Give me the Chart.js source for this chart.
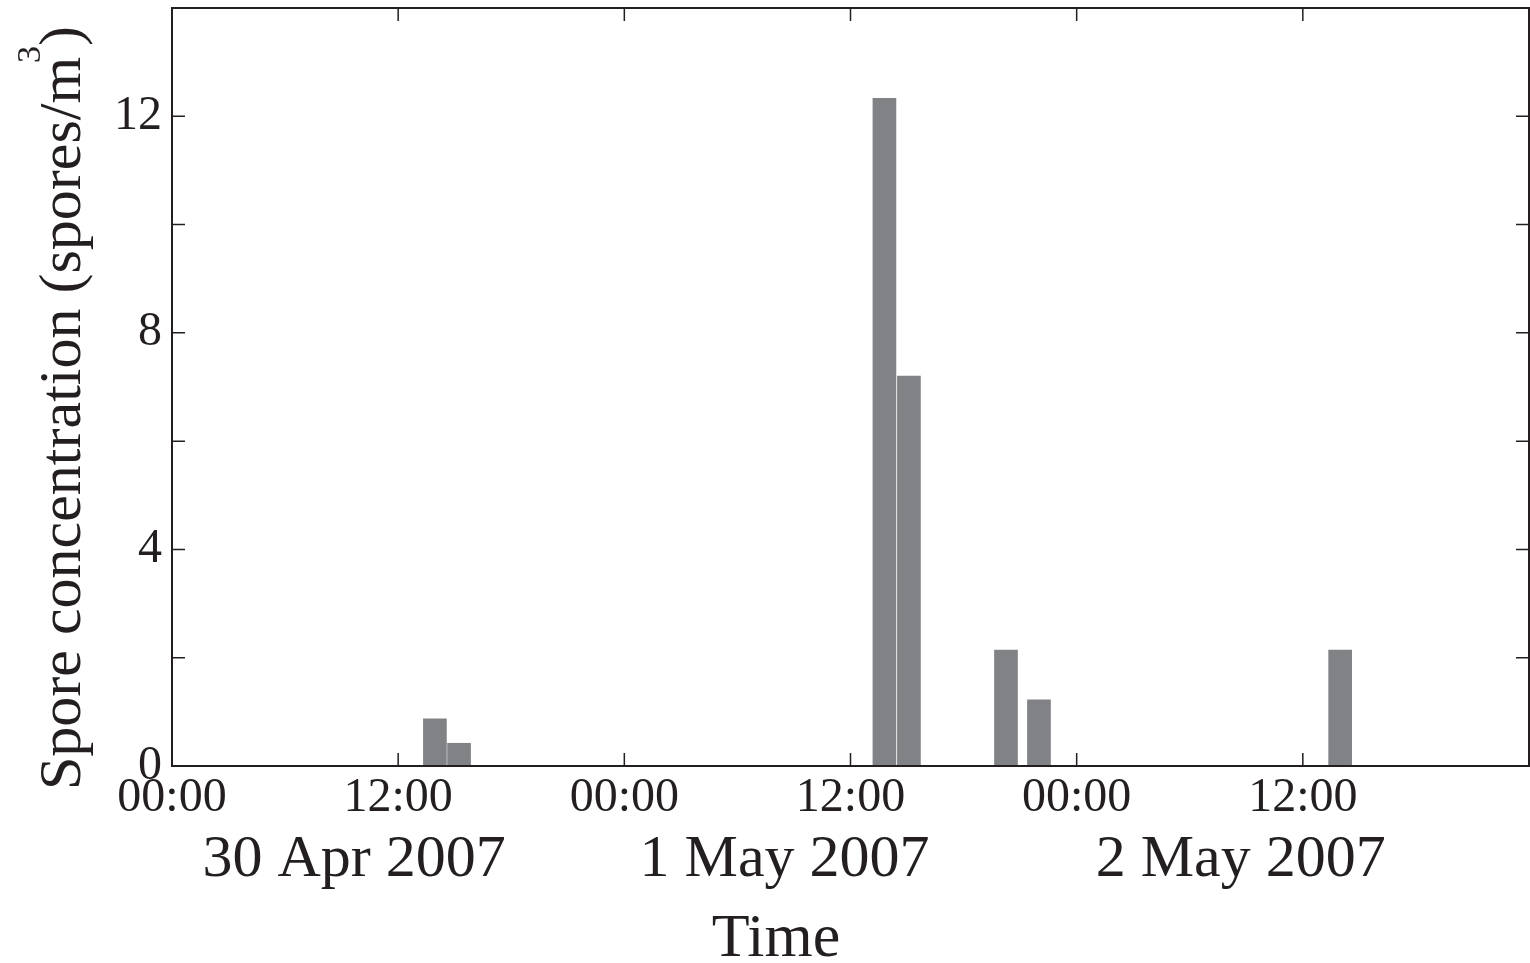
<!DOCTYPE html>
<html>
<head>
<meta charset="utf-8">
<script src="https://cdn.jsdelivr.net/npm/chart.js@4.4.1/dist/chart.umd.min.js"></script>
<style>
  html, body { margin: 0; padding: 0; background: #fff; overflow: hidden; }
  #wrap { width: 1530px; height: 963px; position: relative; }
</style>
</head>
<body>
<div id="wrap"><canvas id="chart"></canvas></div>
<script>
// ---- data (hours since 00:00 30 Apr 2007) ----
const barHours = [13.95, 15.23, 37.8, 39.1, 44.25, 46.0, 61.98];
const sporeValues = [0.87, 0.42, 12.33, 7.2, 2.14, 1.22, 2.14];

const xTickHours = [0, 12, 24, 36, 48, 60];
const xTickLabels = ['00:00', '12:00', '00:00', '12:00', '00:00', '12:00'];
const dateLabels = ['30 Apr 2007', '1 May 2007', '2 May 2007'];
const dateLabelHours = [9.66, 32.5, 56.7];
const yTickValues = [0, 2, 4, 6, 8, 10, 12];
const yLabelledValues = [0, 4, 8, 12];

const INK = '#231f20';
const SERIF = "'Liberation Serif', 'DejaVu Serif', serif";

// frame, inward ticks, date row and axis titles
const framePlugin = {
  id: 'framePlugin',
  afterDraw(chart) {
    const { ctx, chartArea: a, scales } = chart;
    const x = scales.x, y = scales.y;
    const tl = 13;
    ctx.save();
    ctx.strokeStyle = INK;
    ctx.lineWidth = 2;
    ctx.strokeRect(a.left, a.top, a.right - a.left, a.bottom - a.top);

    ctx.lineWidth = 1.5;
    ctx.beginPath();
    xTickHours.forEach(h => {
      if (h <= 0) return;
      const px = x.getPixelForValue(h);
      ctx.moveTo(px, a.bottom); ctx.lineTo(px, a.bottom - tl);
      ctx.moveTo(px, a.top); ctx.lineTo(px, a.top + tl);
    });
    yTickValues.forEach(v => {
      if (v <= 0) return;
      const py = y.getPixelForValue(v);
      ctx.moveTo(a.left, py); ctx.lineTo(a.left + tl, py);
      ctx.moveTo(a.right, py); ctx.lineTo(a.right - tl, py);
    });
    ctx.stroke();

    // date row
    ctx.fillStyle = INK;
    ctx.font = '60px ' + SERIF;
    ctx.textAlign = 'center';
    ctx.textBaseline = 'alphabetic';
    dateLabels.forEach((t, i) => {
      ctx.fillText(t, x.getPixelForValue(dateLabelHours[i]), 876);
    });

    // x title
    ctx.font = '62px ' + SERIF;
    ctx.fillText('Time', 776, 956);

    // y title, rotated, with superscript
    ctx.translate(80, 790);
    ctx.rotate(-Math.PI / 2);
    ctx.textAlign = 'left';
    ctx.font = '60px ' + SERIF;
    const main = 'Spore concentration (spores/m';
    ctx.fillText(main, 0, 0);
    let w = ctx.measureText(main).width;
    ctx.font = '34px ' + SERIF;
    ctx.fillText('3', w - 6, -40);
    w += ctx.measureText('3').width - 6;
    ctx.font = '60px ' + SERIF;
    ctx.fillText(')', w, 0);
    ctx.restore();
  }
};

new Chart(document.getElementById('chart'), {
  type: 'bar',
  data: {
    datasets: [{
      data: barHours.map((h, i) => ({ x: h, y: sporeValues[i] })),
      backgroundColor: '#818286',
      borderWidth: 0,
      barThickness: 23
    }]
  },
  options: {
    responsive: true,
    maintainAspectRatio: false,
    animation: false,
    layout: { padding: { top: 8, right: 1, left: 0, bottom: 0 } },
    plugins: { legend: { display: false }, tooltip: { enabled: false } },
    scales: {
      x: {
        type: 'linear',
        min: 0,
        max: 72,
        offset: false,
        grid: { display: false, drawTicks: false },
        border: { display: false },
        afterBuildTicks: s => { s.ticks = xTickHours.map(v => ({ value: v })); },
        afterFit: s => { s.height = 963 - 766; s.paddingLeft = 0; s.paddingRight = 0; },
        ticks: {
          autoSkip: false,
          maxRotation: 0,
          padding: 4,
          color: INK,
          font: { family: SERIF, size: 48 },
          callback: v => xTickLabels[xTickHours.indexOf(v)] ?? ''
        }
      },
      y: {
        min: 0,
        max: 14,
        grid: { display: false, drawTicks: false },
        border: { display: false },
        afterBuildTicks: s => { s.ticks = yTickValues.map(v => ({ value: v })); },
        afterFit: s => { s.width = 172; s.paddingTop = 0; s.paddingBottom = 0; },
        ticks: {
          padding: 10,
          color: INK,
          font: { family: SERIF, size: 48 },
          callback: v => yLabelledValues.includes(v) ? String(v) : ''
        }
      }
    }
  },
  plugins: [framePlugin]
});
</script>
</body>
</html>
